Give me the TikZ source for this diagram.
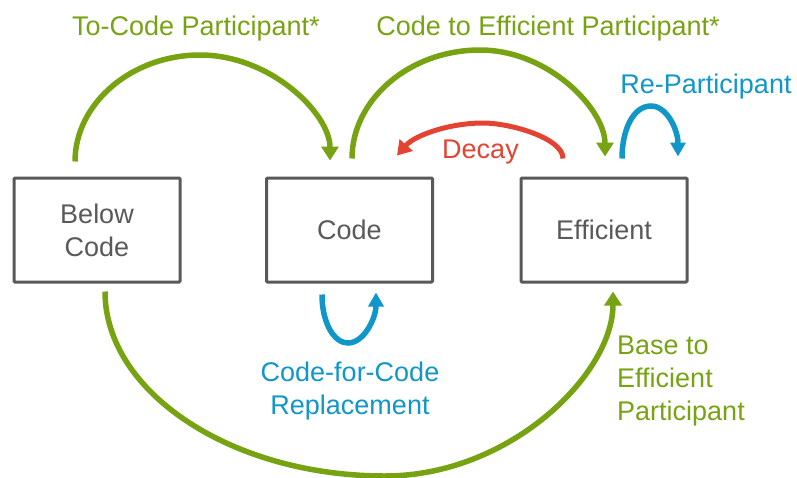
\documentclass[tikz,border=0pt]{standalone}
\usepackage{fontspec}
\setmainfont{Liberation Sans}[Ligatures={NoCommon}]
\usetikzlibrary{arrows.meta}
\definecolor{grn}{RGB}{119,163,19}
\definecolor{blu}{RGB}{16,150,200}
\definecolor{rd}{RGB}{228,67,50}
\definecolor{gry}{RGB}{89,89,89}
\begin{document}
\begin{tikzpicture}[x=1pt,y=-1pt,
  box/.style={draw=gry, line width=3pt, minimum width=166pt, minimum height=104pt, inner sep=0pt, text=gry, align=center, font=\fontsize{27}{33}\selectfont, rounded corners=1pt},
  lbl/.style={inner sep=0pt, font=\fontsize{27}{33}\selectfont},
  garrow/.style={draw=grn, line width=5.5pt, -{Triangle[length=14pt,width=17pt]}},
  barrow/.style={draw=blu, line width=5.5pt, -{Triangle[length=14pt,width=15pt]}},
  rarrow/.style={draw=rd, line width=5pt, -{Triangle[length=14pt,width=17pt]}}]
\useasboundingbox (0,0) rectangle (797,477);
% boxes
\node[box] (below) at (97,230) {Below\\Code};
\node[box] (code) at (349.5,230) {Code};
\node[box] (eff) at (604,230) {Efficient};
% endpoints
\coordinate (a1s) at ([xshift=-22pt,yshift=15pt]below.north);
\coordinate (a1e) at ([xshift=-19.5pt,yshift=16pt]code.north);
\coordinate (a2s) at ([xshift=2.5pt,yshift=18pt]code.north);
\coordinate (a2e) at ([xshift=1pt,yshift=20pt]eff.north);
\coordinate (ds) at ([xshift=-41pt,yshift=18pt]eff.north);
\coordinate (de) at ([xshift=47.5pt,yshift=21pt]code.north);
\coordinate (rs) at ([xshift=18pt,yshift=18pt]eff.north);
\coordinate (re) at ([xshift=74pt,yshift=20pt]eff.north);
\coordinate (cs) at ([xshift=-27.5pt,yshift=-11pt]code.south);
\coordinate (ce) at ([xshift=26.5pt,yshift=-9pt]code.south);
\coordinate (bs) at ([xshift=8pt,yshift=-8pt]below.south);
\coordinate (be) at ([xshift=9pt,yshift=-8pt]eff.south);
% connectors
\draw[garrow] (a1s) .. controls (75,104) and (131,55) .. (200,55) .. controls (271,55) and (330,114) .. (a1e);
\draw[garrow] (a2s) .. controls (352,99.5) and (409.6,50) .. (480,50) .. controls (548.75,50) and (605,109.4) .. (a2e);
\draw[rarrow] (ds) .. controls (563,138) and (510,123) .. (483,123) .. controls (450,123) and (415,135) .. (de);
\draw[barrow] (rs) .. controls (622,130) and (633,106) .. (651,106) .. controls (667,106) and (678,130) .. (re);
\draw[barrow] (cs) .. controls (322,323) and (334,343) .. (348,343) .. controls (364,343) and (376,318) .. (ce);
\draw[garrow] (bs) .. controls (105,392) and (231,476) .. (385,476) .. controls (510,476) and (613,374) .. (be);
% labels
\node[lbl, text=grn, anchor=base] (l1) at (196,35) {To-Code Participant*};
\node[lbl, text=grn, anchor=base] (l2) at (548,35) {Code to Efficient Participant*};
\node[lbl, text=blu, anchor=base] (l3) at (706,93) {Re-Participant};
\node[lbl, text=rd, anchor=base] (l4) at (480.5,158) {Decay};
\node[lbl, text=blu, align=center] (l5) at (350,391.5) {Code-for-Code\\Replacement};
\node[lbl, text=grn, align=left, anchor=west] (l6) at (617,381) {Base to\\Efficient\\Participant};
\end{tikzpicture}
\end{document}
